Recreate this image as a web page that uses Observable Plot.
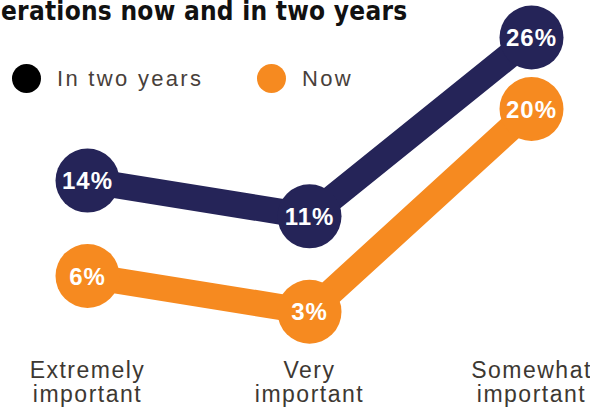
<!DOCTYPE html>
<html>
<head>
<meta charset="utf-8">
<script src="https://cdn.jsdelivr.net/npm/d3@7"></script>
<script src="https://cdn.jsdelivr.net/npm/@observablehq/plot@0.6"></script>
<style>
  html, body { margin: 0; padding: 0; background: #fff; }
  #wrap { position: relative; width: 590px; height: 413px; overflow: hidden; }
  #title {
    position: absolute; left: 1px; top: -3px; white-space: nowrap;
    font-family: "Liberation Sans Narrow", "DejaVu Sans Condensed", sans-serif;
    font-weight: bold; font-size: 26px; line-height: 28px; color: #111;
    letter-spacing: 0.25px;
  }
  .leg { position: absolute; top: 64px; height: 29px; display: flex; align-items: center; }
  .leg .sw { width: 29px; height: 29px; border-radius: 50%; }
  .leg .lb { margin-left: 16px; font-family: "Liberation Sans", Arial, sans-serif; font-size: 22px; letter-spacing: 2.3px; color: #48403a; }
  #chart { position: absolute; left: 0; top: 0; }
  #chart svg text { font-family: "Liberation Sans", Arial, sans-serif; }
  #chart g[aria-label="x-axis tick label"] text { letter-spacing: 1.5px; }
  #chart g[aria-label="text"] text { letter-spacing: 1px; }
</style>
</head>
<body>
<div id="wrap">
  <div id="chart"></div>
  <div id="title"></div>
  <div id="legend"></div>
</div>
<script>
const titleText = "erations now and in two years";
const categories = ["Extremely important", "Very important", "Somewhat important"];
const tickLabels = ["Extremely\nimportant", "Very\nimportant", "Somewhat\nimportant"];
const seriesNames = ["In two years", "Now"];
const inTwoYears = [14, 11, 26];
const now = [6, 3, 20];
const seriesColors = ["#252458", "#f68a20"];
const legendColors = ["#000000", "#f68a20"];

const data = [];
categories.forEach((c, i) => {
  data.push({category: c, series: seriesNames[0], value: inTwoYears[i]});
  data.push({category: c, series: seriesNames[1], value: now[i]});
});

document.getElementById("title").textContent = titleText;

const legend = document.getElementById("legend");
const legendLeft = [12, 257];
seriesNames.forEach((s, i) => {
  const item = document.createElement("div");
  item.className = "leg";
  item.style.left = legendLeft[i] + "px";
  item.innerHTML = `<div class="sw" style="background:${legendColors[i]}"></div><div class="lb">${s}</div>`;
  legend.appendChild(item);
});

const chart = Plot.plot({
  width: 590,
  height: 413,
  marginLeft: 87,
  marginRight: 59,
  marginTop: 37,
  marginBottom: 55,
  x: {type: "point", domain: categories, padding: 0, axis: null},
  y: {domain: [0, 26], range: [347, 37], axis: null},
  color: {domain: seriesNames, range: seriesColors},
  marks: [
    Plot.line(data, {x: "category", y: "value", z: "series", stroke: "series", strokeWidth: 26, strokeLinejoin: "miter"}),
    Plot.dot(data, {x: "category", y: "value", r: 32, fill: "series", stroke: null}),
    Plot.text(data, {x: "category", y: "value", text: d => d.value + "%", fill: "white", fontSize: 24, fontWeight: "bold", dy: 1}),
    Plot.axisX({
      anchor: "bottom",
      tickSize: 0,
      tickPadding: 2,
      fontSize: 23,
      lineHeight: 1.05,
      tickFormat: (d, i) => tickLabels[categories.indexOf(d)],
      fill: "#3d3832",
      label: null
    })
  ]
});
document.getElementById("chart").appendChild(chart);
</script>
</body>
</html>
